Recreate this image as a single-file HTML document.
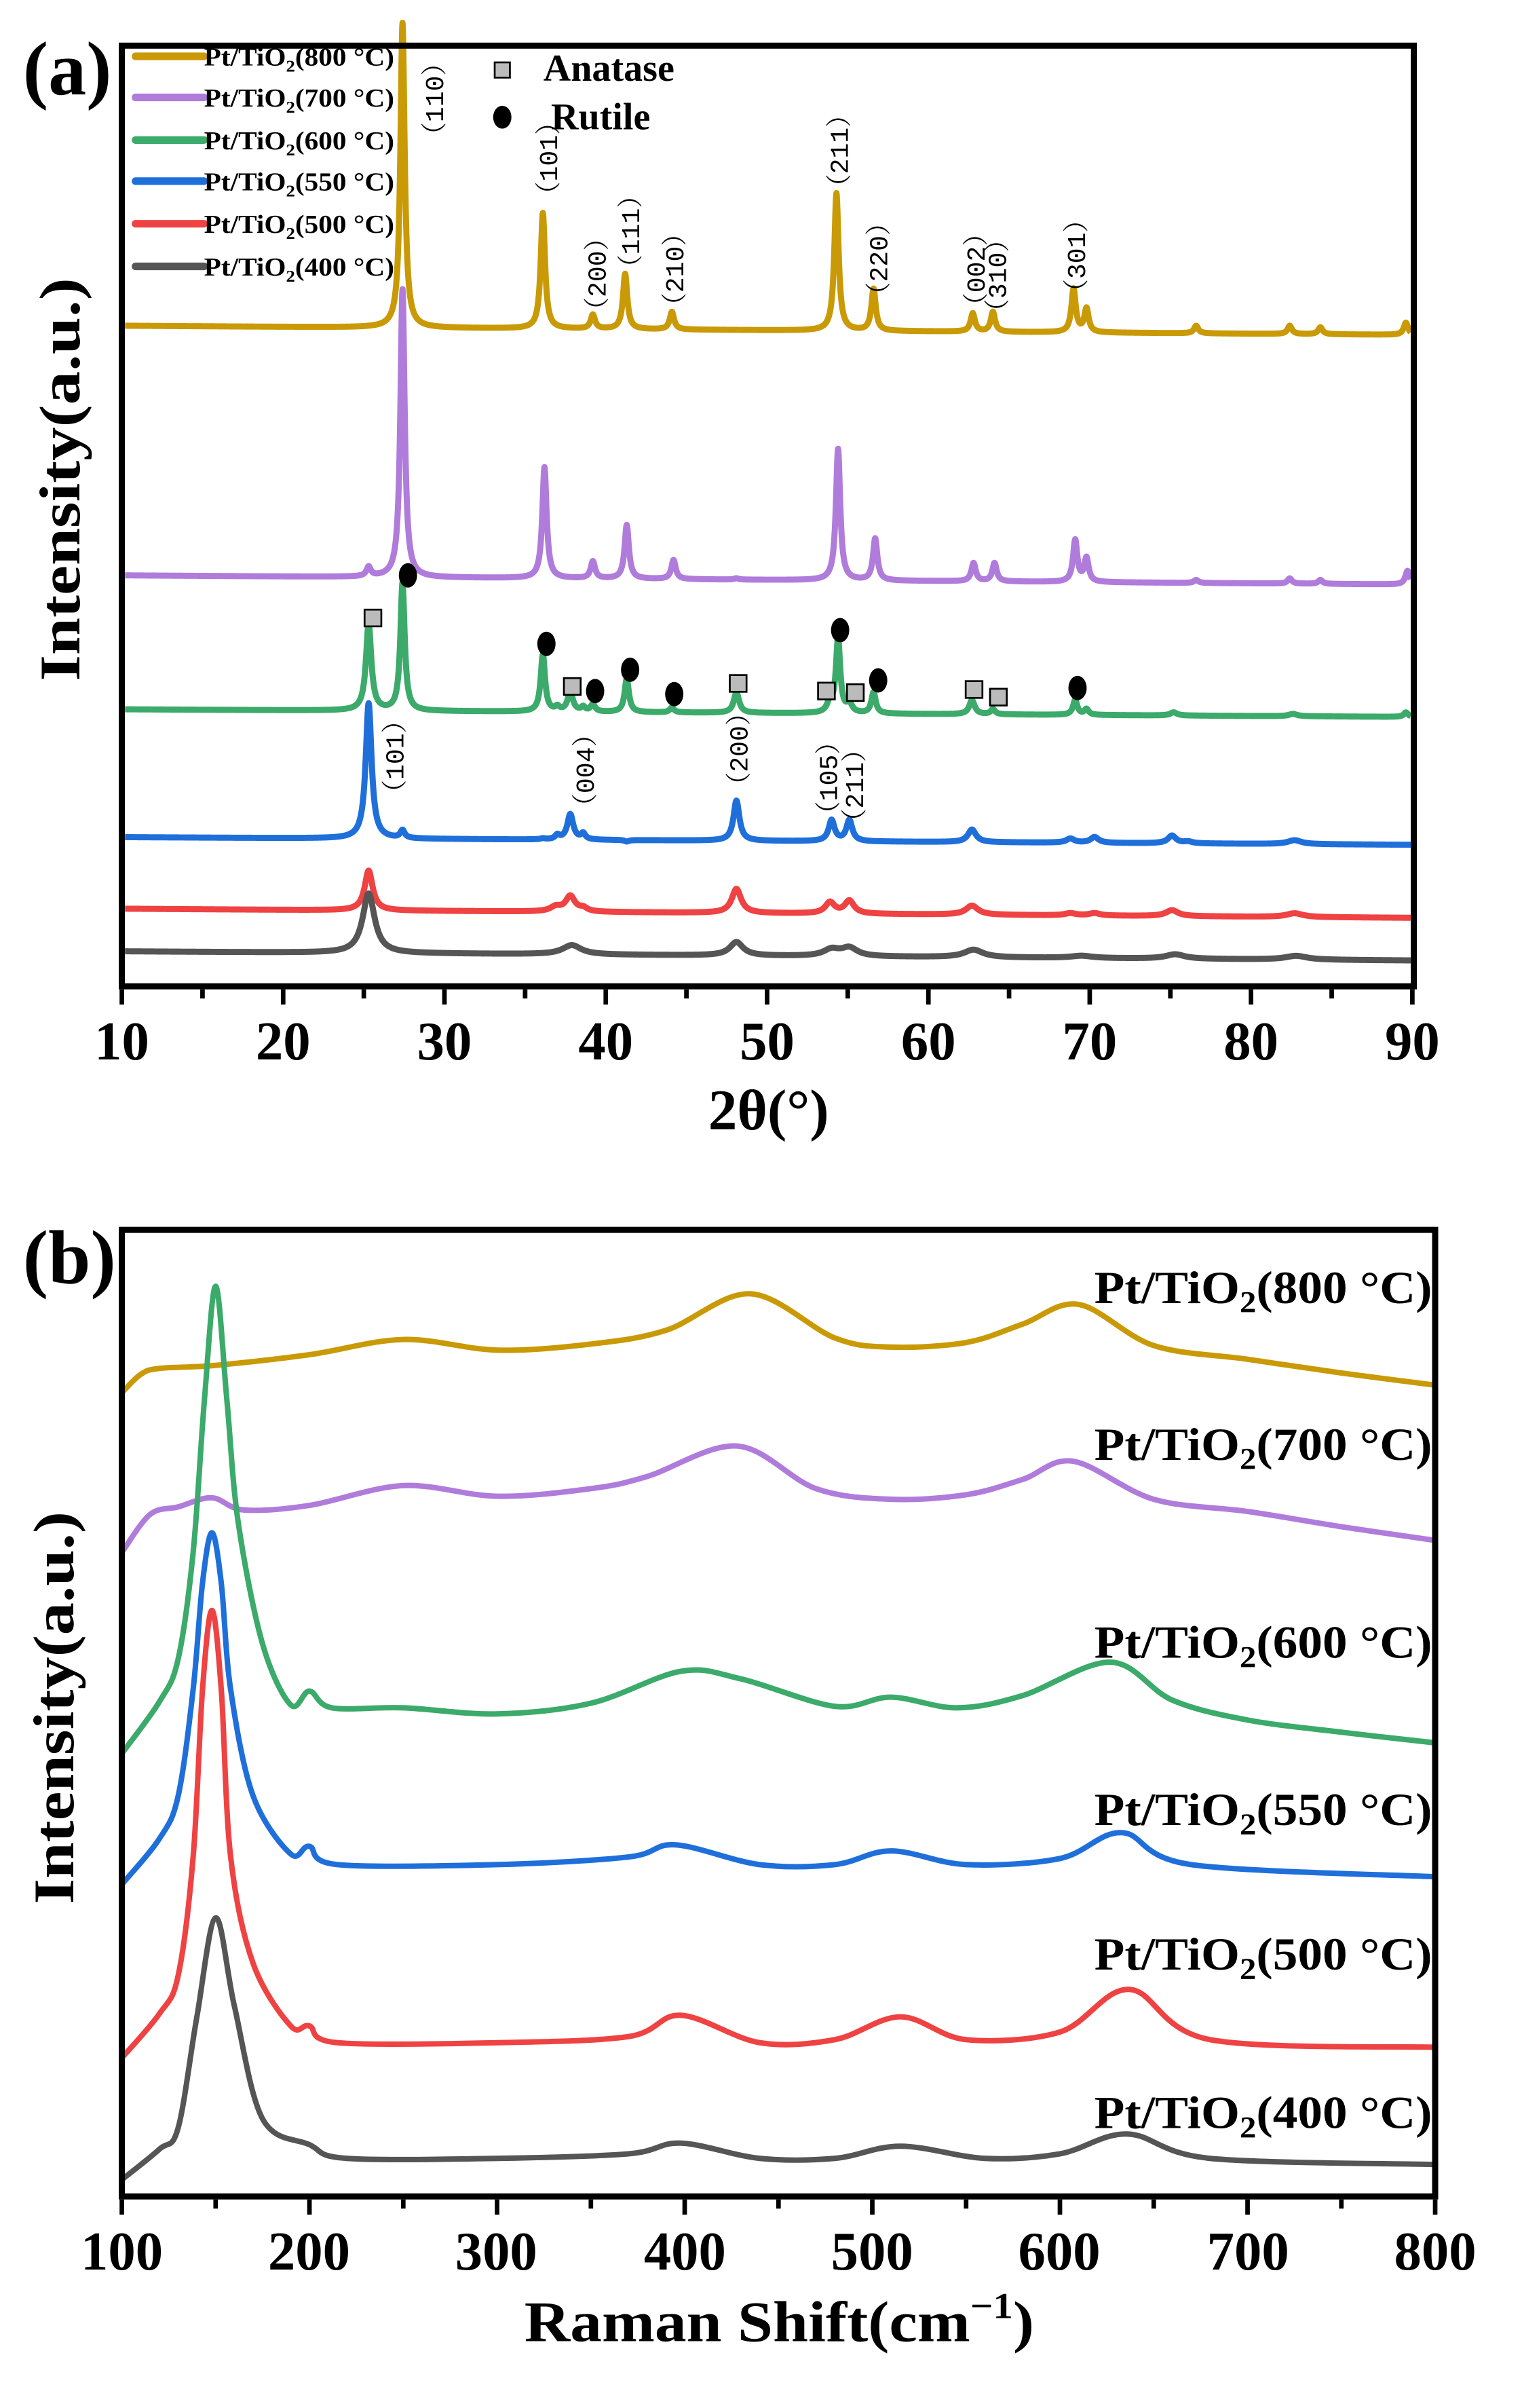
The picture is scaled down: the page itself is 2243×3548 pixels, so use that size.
<!DOCTYPE html>
<html><head><meta charset="utf-8"><style>
html,body{margin:0;padding:0;background:#fff;}
svg{display:block;}
text{font-family:"Liberation Serif",serif;font-weight:bold;fill:#000;}
.ann text{font-family:"Liberation Mono","Noto Serif CJK SC",monospace;font-weight:normal;font-size:17px;}
</style></head><body>
<svg id="s" width="2243" height="3548" viewBox="0 0 1000 1582" xmlns="http://www.w3.org/2000/svg">
<g id="curves"></g>
<rect x="80" y="30" width="849" height="618" fill="none" stroke="#000" stroke-width="4"/>
<g id="ticksA" stroke="#000" stroke-width="3"></g>
<text x="15" y="62" font-size="50">(a)</text>
<g font-size="36" text-anchor="middle">
<text x="80" y="696">10</text><text x="186" y="696">20</text><text x="292" y="696">30</text><text x="398" y="696">40</text><text x="504" y="696">50</text><text x="610" y="696">60</text><text x="716" y="696">70</text><text x="822" y="696">80</text><text x="928" y="696">90</text>
</g>
<text x="505" y="742" font-size="38" text-anchor="middle">2θ(°)</text>
<text transform="translate(52,315) rotate(-90)" font-size="38" text-anchor="middle" textLength="265" lengthAdjust="spacingAndGlyphs">Intensity(a.u.)</text>
<g stroke-width="5" stroke-linecap="round">
<line x1="89" y1="37" x2="134" y2="37" stroke="#C99A06"/>
<line x1="89" y1="64" x2="134" y2="64" stroke="#B07CDB"/>
<line x1="89" y1="92" x2="134" y2="92" stroke="#3BAA6A"/>
<line x1="89" y1="119" x2="134" y2="119" stroke="#1F6FDB"/>
<line x1="89" y1="147" x2="134" y2="147" stroke="#EF4242"/>
<line x1="89" y1="175" x2="134" y2="175" stroke="#555555"/>
</g>
<g font-size="17">
<text x="134" y="43" textLength="125" lengthAdjust="spacingAndGlyphs">Pt/TiO<tspan font-size="11" dy="4">2</tspan><tspan dy="-4">(800 °C)</tspan></text>
<text x="134" y="70" textLength="125" lengthAdjust="spacingAndGlyphs">Pt/TiO<tspan font-size="11" dy="4">2</tspan><tspan dy="-4">(700 °C)</tspan></text>
<text x="134" y="98" textLength="125" lengthAdjust="spacingAndGlyphs">Pt/TiO<tspan font-size="11" dy="4">2</tspan><tspan dy="-4">(600 °C)</tspan></text>
<text x="134" y="125" textLength="125" lengthAdjust="spacingAndGlyphs">Pt/TiO<tspan font-size="11" dy="4">2</tspan><tspan dy="-4">(550 °C)</tspan></text>
<text x="134" y="153" textLength="125" lengthAdjust="spacingAndGlyphs">Pt/TiO<tspan font-size="11" dy="4">2</tspan><tspan dy="-4">(500 °C)</tspan></text>
<text x="134" y="181" textLength="125" lengthAdjust="spacingAndGlyphs">Pt/TiO<tspan font-size="11" dy="4">2</tspan><tspan dy="-4">(400 °C)</tspan></text>
</g>
<rect x="325" y="41" width="10" height="10" fill="#bbb" stroke="#000" stroke-width="1.2"/>
<text x="357" y="53" font-size="25">Anatase</text>
<ellipse cx="330" cy="77" rx="6" ry="7.5" fill="#000"/>
<text x="362" y="85" font-size="25">Rutile</text>
<g class="ann" text-anchor="middle">
<text transform="translate(291,65) rotate(-90)">（110）</text>
<text transform="translate(366,104) rotate(-90)">（101）</text>
<text transform="translate(398,180) rotate(-90)">（200）</text>
<text transform="translate(420,152) rotate(-90)">（111）</text>
<text transform="translate(449,177) rotate(-90)">（210）</text>
<text transform="translate(557,99) rotate(-90)">（211）</text>
<text transform="translate(583,170) rotate(-90)">（220）</text>
<text transform="translate(647,177) rotate(-90)">（002）</text>
<text transform="translate(661,181) rotate(-90)">（310）</text>
<text transform="translate(713,168) rotate(-90)">（301）</text>
<text transform="translate(265,497) rotate(-90)">（101）</text>
<text transform="translate(390,506) rotate(-90)">（004）</text>
<text transform="translate(491,492) rotate(-90)">（200）</text>
<text transform="translate(550,511) rotate(-90)">（105）</text>
<text transform="translate(567,516) rotate(-90)">（211）</text>
</g>
<g id="markers"></g>

<rect x="80" y="808" width="863" height="635" fill="none" stroke="#000" stroke-width="4"/>
<g id="ticksB" stroke="#000" stroke-width="3"></g>
<text x="15" y="843" font-size="50">(b)</text>
<g font-size="36" text-anchor="middle">
<text x="80" y="1491">100</text><text x="203" y="1491">200</text><text x="326" y="1491">300</text><text x="450" y="1491">400</text><text x="573" y="1491">500</text><text x="696" y="1491">600</text><text x="820" y="1491">700</text><text x="943" y="1491">800</text>
</g>
<text x="512" y="1538" font-size="38" text-anchor="middle" textLength="335" lengthAdjust="spacingAndGlyphs">Raman Shift(cm<tspan font-size="24" dy="-15">−1</tspan><tspan dy="15">)</tspan></text>
<text transform="translate(48,1122) rotate(-90)" font-size="38" text-anchor="middle" textLength="258" lengthAdjust="spacingAndGlyphs">Intensity(a.u.)</text>
<g font-size="30" text-anchor="end">
<text x="941" y="856" textLength="222" lengthAdjust="spacingAndGlyphs">Pt/TiO<tspan font-size="20" dy="6">2</tspan><tspan dy="-6">(800 °C)</tspan></text>
<text x="941" y="959" textLength="222" lengthAdjust="spacingAndGlyphs">Pt/TiO<tspan font-size="20" dy="6">2</tspan><tspan dy="-6">(700 °C)</tspan></text>
<text x="941" y="1089" textLength="222" lengthAdjust="spacingAndGlyphs">Pt/TiO<tspan font-size="20" dy="6">2</tspan><tspan dy="-6">(600 °C)</tspan></text>
<text x="941" y="1199" textLength="222" lengthAdjust="spacingAndGlyphs">Pt/TiO<tspan font-size="20" dy="6">2</tspan><tspan dy="-6">(550 °C)</tspan></text>
<text x="941" y="1294" textLength="222" lengthAdjust="spacingAndGlyphs">Pt/TiO<tspan font-size="20" dy="6">2</tspan><tspan dy="-6">(500 °C)</tspan></text>
<text x="941" y="1398" textLength="222" lengthAdjust="spacingAndGlyphs">Pt/TiO<tspan font-size="20" dy="6">2</tspan><tspan dy="-6">(400 °C)</tspan></text>
</g>
</svg>
<script>
var NS="http://www.w3.org/2000/svg";
function el(p,t,a){var e=document.createElementNS(NS,t);for(var k in a)e.setAttribute(k,a[k]);p.appendChild(e);return e;}
var cur=document.getElementById("curves");
var tA=document.getElementById("ticksA");
for(var v=10;v<=90;v+=5){var x=80+(v-10)/80*848;var L=(v%10==0)?10:6;el(tA,"line",{x1:x,y1:650,x2:x,y2:650+L});}
var tB=document.getElementById("ticksB");
for(var v=100;v<=800;v+=50){var x=80+(v-100)/700*863;var L=(v%100==0)?10:6;el(tB,"line",{x1:x,y1:1445,x2:x,y2:1445+L});}
function X(t){return 80+(t-10)/80*848;}
function xrd(b0,b1,peaks,w,col){
 var d="";
 for(var t=10.2;t<=89.9;t+=0.02){
  var y=b0+(b1-b0)*(t-10)/80;
  for(var i=0;i<peaks.length;i++){var p=peaks[i];var ww=p[2]||w;var dx=(t-p[0])/ww;y-=(p[1])/(1+dx*dx);}
  d+=(d?"L":"M")+X(t).toFixed(2)+" "+y.toFixed(2);
 }
 el(cur,"path",{d:d,fill:"none",stroke:col,"stroke-width":4,"stroke-linejoin":"round"});
}
function P(arr,b0,b1){return arr.map(function(p){var base=b0+(b1-b0)*(p[0]-10)/80;return [p[0],base-p[1],p[2]];});}
xrd(214,220,P([[27.4,15],[36.1,140],[39.2,207],[41.2,180],[44.1,205],[54.3,127],[56.6,190],[62.75,206],[64.0,205],[69.0,190],[69.8,203],[76.6,214],[82.4,214],[84.3,215],[89.6,212]],214,220),0.16,"#C99A06");
xrd(378,384,P([[25.3,373],[27.4,190],[36.2,307],[39.2,369],[41.3,345],[44.2,368],[48.1,380],[54.4,295],[56.7,354],[62.8,370],[64.1,370],[69.1,355],[69.8,367],[76.6,381],[82.4,380],[84.3,381],[89.7,375]],378,384),0.16,"#B07CDB");
xrd(466,471,P([[25.3,410,0.2],[27.4,383],[36.1,430],[37.0,465],[37.8,455,0.2],[38.6,465],[39.2,463],[41.3,446],[44.1,465],[48.1,455,0.2],[53.9,462,0.2],[54.4,420],[55.1,463,0.2],[56.6,455],[62.7,460,0.2],[64.0,466],[69.1,460],[69.8,466],[75.2,468,0.25],[82.6,469,0.3],[89.6,468]],466,471),0.16,"#3BAA6A");
xrd(550,555,P([[25.3,462,0.22],[27.4,546],[36.1,551],[37.0,549],[37.8,535,0.22],[38.6,548],[41.3,553],[48.1,526,0.22],[54.0,539,0.22],[55.1,539,0.22],[56.6,553],[62.7,545,0.3],[68.8,551,0.3],[70.3,550,0.3],[75.1,549,0.3],[76.1,553,0.3],[82.7,552,0.5]],550,555),0.16,"#1F6FDB");
xrd(597,603,P([[25.3,572,0.3],[36.9,596,0.4],[37.8,589,0.35],[38.6,597,0.3],[48.1,584,0.35],[53.9,593,0.35],[55.1,592,0.35],[62.7,595,0.45],[68.8,600,0.4],[70.3,600,0.4],[75.1,598,0.45],[82.7,600,0.6]],597,603),0.3,"#EF4242");
xrd(625,631,P([[25.3,587,0.45],[37.9,621,0.7],[48.1,619,0.5],[54.0,624,0.6],[55.1,623,0.6],[62.8,624,0.7],[69.5,628,0.8],[75.3,627,0.7],[82.8,628,0.8]],625,631),0.5,"#555555");
var mk=document.getElementById("markers");
[[245,406],[376,451],[485,449],[543,454],[562,455],[640,453],[656,458]].forEach(function(p){el(mk,"rect",{x:p[0]-5.5,y:p[1]-5.5,width:11,height:11,fill:"#bbb",stroke:"#000","stroke-width":1.2});});
[[268,378],[359,423],[391,454],[414,440],[443,456],[552,414],[577,447],[708,452]].forEach(function(p){el(mk,"ellipse",{cx:p[0],cy:p[1],rx:6,ry:8,fill:"#000"});});
function XR(v){return 80+(v-100)/700*863;}
function cr(pts,col){
 var p=pts.map(function(a){return [XR(a[0]),a[1]];});
 var d="M"+p[0][0]+" "+p[0][1];
 for(var i=0;i<p.length-1;i++){
  var p0=p[i-1]||p[i],p1=p[i],p2=p[i+1],p3=p[i+2]||p2;
  var c1=[p1[0]+(p2[0]-p0[0])/6,p1[1]+(p2[1]-p0[1])/6],c2=[p2[0]-(p3[0]-p1[0])/6,p2[1]-(p3[1]-p1[1])/6];
  d+="C"+c1[0].toFixed(2)+" "+c1[1].toFixed(2)+" "+c2[0].toFixed(2)+" "+c2[1].toFixed(2)+" "+p2[0].toFixed(2)+" "+p2[1].toFixed(2);
 }
 el(cur,"path",{d:d,fill:"none",stroke:col,"stroke-width":3.6,"stroke-linejoin":"round"});
}
cr([[100,915],[110,903],[120,899],[150,897],[200,890],[250,880],[300,887],[350,883],[390,874],[435,850],[480,879],[510,885],[550,882],[580,870],[610,857],[650,884],[700,893],[750,902],[800,910]],"#C99A06");
cr([[100,1020],[115,995],[130,990],[148,984],[165,992],[200,989],[250,976],[300,983],[350,978],[380,970],[428,950],[470,978],[510,985],[550,982],[580,972],[607,960],[650,985],[700,993],[750,1003],[800,1012]],"#B07CDB");
cr([[100,1152],[120,1118],[130,1090],[138,1020],[144,920],[150,845],[156,920],[162,1000],[175,1080],[190,1120],[200,1111],[212,1122],[250,1122],[300,1126],[350,1119],[398,1098],[430,1103],[480,1121],[510,1115],[545,1122],[580,1114],[627,1092],[660,1117],[700,1130],[750,1138],[800,1145]],"#3BAA6A");
cr([[100,1238],[120,1208],[130,1180],[138,1110],[143,1040],[148,1007],[153,1040],[158,1110],[170,1180],[190,1218],[200,1213],[215,1225],[300,1225],[370,1220],[395,1212],[440,1225],[480,1225],[510,1216],[550,1225],[600,1221],[633,1204],[670,1225],[800,1233]],"#1F6FDB");
cr([[100,1352],[120,1323],[130,1298],[138,1220],[143,1110],[148,1058],[153,1110],[158,1220],[170,1290],[190,1331],[200,1331],[215,1342],[300,1342],[370,1338],[398,1324],[440,1342],[480,1340],[515,1325],[550,1340],[600,1335],[637,1307],[680,1340],[800,1345]],"#EF4242");
cr([[100,1432],[120,1412],[130,1398],[140,1325],[150,1260],[160,1318],[175,1392],[200,1409],[220,1418],[300,1418],[370,1415],[398,1408],[440,1418],[480,1418],[515,1410],[560,1418],[600,1415],[636,1402],[680,1418],[800,1422]],"#555555");
</script>
</body></html>
